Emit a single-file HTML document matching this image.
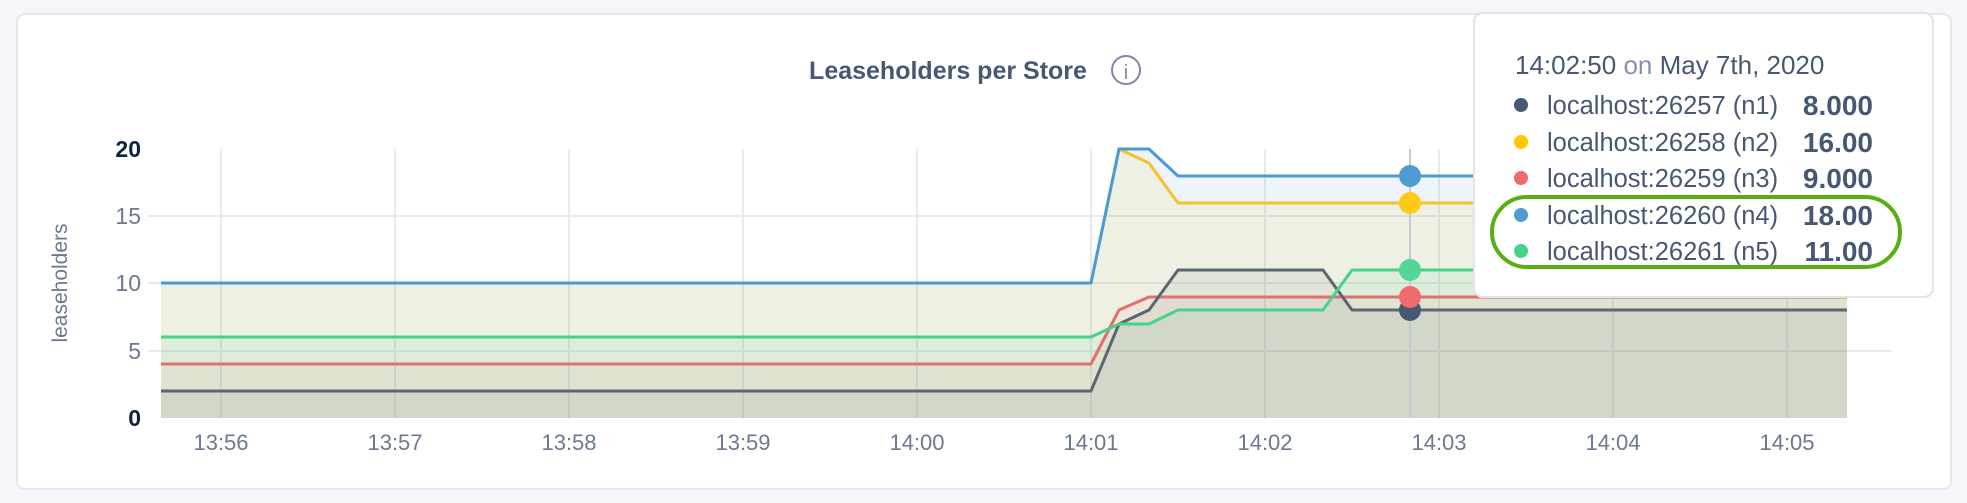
<!DOCTYPE html>
<html><head><meta charset="utf-8"><style>
html,body{margin:0;padding:0;background:#f5f6fa;width:1967px;height:503px;overflow:hidden;font-family:"Liberation Sans",sans-serif}
</style></head><body>
<svg width="1967" height="503" viewBox="0 0 1967 503" xmlns="http://www.w3.org/2000/svg" style="position:absolute;left:0;top:0">
<rect x="17" y="14" width="1934" height="475" rx="8" fill="#fff" stroke="#e3e6ec" stroke-width="2"/>
<text x="948" y="79" text-anchor="middle" font-size="25" font-weight="bold" fill="#475872">Leaseholders per Store</text>
<circle cx="1126" cy="70" r="14" fill="none" stroke="#7c86a8" stroke-width="2"/>
<text x="1126" y="79" text-anchor="middle" font-size="20" fill="#7c86a8">i</text>
<g stroke="#e7eaf0" stroke-width="2">
<line x1="148" y1="216" x2="1892" y2="216"/><line x1="148" y1="283" x2="1892" y2="283"/><line x1="148" y1="351" x2="1892" y2="351"/>
<line x1="221" y1="149" x2="221" y2="418"/><line x1="395" y1="149" x2="395" y2="418"/><line x1="569" y1="149" x2="569" y2="418"/><line x1="743" y1="149" x2="743" y2="418"/><line x1="917" y1="149" x2="917" y2="418"/><line x1="1091" y1="149" x2="1091" y2="418"/><line x1="1265" y1="149" x2="1265" y2="418"/><line x1="1439" y1="149" x2="1439" y2="418"/><line x1="1613" y1="149" x2="1613" y2="418"/><line x1="1787" y1="149" x2="1787" y2="418"/>
</g>
<g>
<polygon fill="rgba(76,155,210,0.1)" points="161,418 161,283 1091,283 1119,149 1149,149 1178,176 1847,176 1847,418"/>
<polygon fill="rgba(255,204,0,0.09)" points="161,418 161,283 1091,283 1119,149 1149,163 1178,203 1847,203 1847,418"/>
<polygon fill="rgba(62,207,142,0.09)" points="161,418 161,337 1091,337 1119,324 1149,324 1178,310 1323,310 1352,270 1847,270 1847,418"/>
<polygon fill="rgba(226,110,110,0.08)" points="161,418 161,364 1091,364 1119,310 1149,297 1847,297 1847,418"/>
<polygon fill="rgba(71,85,105,0.08)" points="161,418 161,391 1091,391 1119,324 1149,310 1178,270 1323,270 1352,310 1847,310 1847,418"/>
</g>
<g fill="none" stroke-width="3" stroke-linejoin="round">
<polyline stroke="#f2c230" points="161,283 1091,283 1119,149 1149,163 1178,203 1847,203"/>
<polyline stroke="#4a9bd1" points="161,283 1091,283 1119,149 1149,149 1178,176 1847,176"/>
<polyline stroke="#e26e6e" points="161,364 1091,364 1119,310 1149,297 1847,297"/>
<polyline stroke="#5a6670" points="161,391 1091,391 1119,324 1149,310 1178,270 1323,270 1352,310 1847,310"/>
<polyline stroke="#45d38c" points="161,337 1091,337 1119,324 1149,324 1178,310 1323,310 1352,270 1847,270"/>
</g>
<line x1="1410" y1="149" x2="1410" y2="418" stroke="#c8cbce" stroke-width="2"/>
<circle cx="1410" cy="310" r="11" fill="#475872"/>
<circle cx="1410" cy="297" r="11" fill="#f06b6b"/>
<circle cx="1410" cy="270" r="11" fill="#52d596"/>
<circle cx="1410" cy="203" r="11" fill="#ffc91a"/>
<circle cx="1410" cy="176" r="11" fill="#4f9cd2"/>
<g font-size="23" text-anchor="end">
<text x="141" y="157" font-weight="bold" fill="#0d2240">20</text>
<text x="141" y="224" fill="#6b7a8f">15</text>
<text x="141" y="291" fill="#6b7a8f">10</text>
<text x="141" y="359" fill="#6b7a8f">5</text>
<text x="141" y="426" font-weight="bold" fill="#0d2240">0</text>
</g>
<text transform="translate(67,283) rotate(-90)" text-anchor="middle" font-size="21" fill="#6b7a8f">leaseholders</text>
<g font-size="22" text-anchor="middle" fill="#6b7a8f">
<text x="221" y="450">13:56</text><text x="395" y="450">13:57</text><text x="569" y="450">13:58</text><text x="743" y="450">13:59</text><text x="917" y="450">14:00</text><text x="1091" y="450">14:01</text><text x="1265" y="450">14:02</text><text x="1439" y="450">14:03</text><text x="1613" y="450">14:04</text><text x="1787" y="450">14:05</text>
</g>
<rect x="1474" y="13" width="459" height="284" rx="9" fill="#fff" stroke="#e2e4e8" stroke-width="2"/>
<text x="1515" y="74" font-size="26" fill="#475872">14:02:50 <tspan fill="#8590ad">on</tspan> May 7th, 2020</text>
<g font-size="25.5" fill="#475872">
<circle cx="1521" cy="105" r="7" fill="#475872"/><text x="1547" y="114">localhost:26257 (n1)</text><text x="1873" y="115" text-anchor="end" font-weight="bold" font-size="28">8.000</text>
<circle cx="1521" cy="142" r="7" fill="#ffc700"/><text x="1547" y="151">localhost:26258 (n2)</text><text x="1873" y="152" text-anchor="end" font-weight="bold" font-size="28">16.00</text>
<circle cx="1521" cy="178" r="7" fill="#f06b6b"/><text x="1547" y="187">localhost:26259 (n3)</text><text x="1873" y="188" text-anchor="end" font-weight="bold" font-size="28">9.000</text>
<circle cx="1521" cy="215" r="7" fill="#4f9cd2"/><text x="1547" y="224">localhost:26260 (n4)</text><text x="1873" y="225" text-anchor="end" font-weight="bold" font-size="28">18.00</text>
<circle cx="1521" cy="251" r="7" fill="#45d38c"/><text x="1547" y="260">localhost:26261 (n5)</text><text x="1873" y="261" text-anchor="end" font-weight="bold" font-size="28">11.00</text>
</g>
<rect x="1492" y="197" width="408" height="70" rx="35" fill="none" stroke="#5aae12" stroke-width="4"/>
</svg>
</body></html>
